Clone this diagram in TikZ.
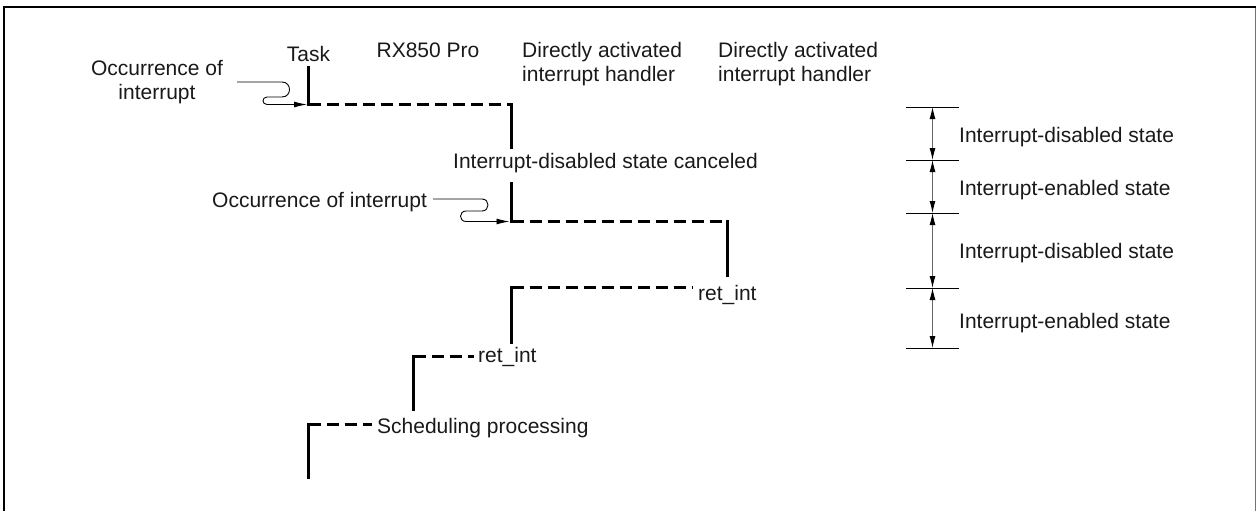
\documentclass[tikz,border=0pt]{standalone}
\usepackage{fontspec}
\setmainfont{Liberation Sans}
\usetikzlibrary{arrows.meta}

\begin{document}
\begin{tikzpicture}[x=1pt, y=-1pt,
    txt/.style={inner sep=0pt, text=black!90, font=\fontsize{21}{24}\selectfont},
    run/.style={line width=3pt, line cap=rect},
    wait/.style={line width=3pt, dash pattern=on 12pt off 6pt},
    irq/.style={line width=0.9pt, -{Latex[length=13pt,width=6pt]}},
    span/.style={line width=0.9pt, draw=black!60,
        {Latex[length=12pt,width=6pt,color=black]}-{Latex[length=12pt,width=6pt,color=black]}}]
    \useasboundingbox (0,0) rectangle (1257,511);
    \draw[line width=2pt] (4,511) -- (4,7) -- (1256,7);
    \draw[line width=1.5pt, black!55] (1255.5,8) -- (1255.5,511);

    \node[txt, anchor=base] (task) at (308.5,61) {Task};
    \node[txt, anchor=base] (rx) at (428,57) {RX850 Pro};
    \node[txt, anchor=north west, align=left] (hdlA) at (522,42) {Directly activated\\interrupt handler};
    \node[txt, anchor=north west, align=left] (hdlB) at (718,42) {Directly activated\\interrupt handler};
    \node[txt, anchor=north, align=center] (occA) at (157,60) {Occurrence of\\interrupt};
    \node[txt, anchor=base west] (cancel) at (453,168) {Interrupt-disabled state canceled};
    \node[txt, anchor=base west] (occB) at (212,207) {Occurrence of interrupt};
    \node[txt, anchor=base west] (retB) at (698,300.5) {ret\_int};
    \node[txt, anchor=base west] (retA) at (478,362.5) {ret\_int};
    \node[txt, anchor=base west] (sched) at (377,433) {Scheduling processing};

    \coordinate (t0) at (308.5,67);
    \coordinate (t1) at (308.5,104.5);
    \coordinate (t2) at (511.5,104.5);
    \coordinate (t3) at (511.5,147);
    \coordinate (a0) at (511.5,183);
    \coordinate (a1) at (511.5,221.5);
    \coordinate (a2) at (727.5,221.5);
    \coordinate (a3) at (727.5,275);
    \coordinate (a4) at (511.5,287.5);
    \coordinate (a5) at (511.5,342);
    \coordinate (r0) at (413.5,356.5);
    \coordinate (r1) at (413.5,409);
    \coordinate (p0) at (308.5,424.5);
    \coordinate (p1) at (308.5,477);
    \coordinate (qA) at (237,82);
    \coordinate (qB) at (433,199);

    \draw[run] (t0) -- (t1);
    \draw[wait] (t1) -- (t2);
    \draw[run] (t2) -- (t3);
    \draw[run] (a0) -- (a1);
    \draw[wait] (a1) -- (a2);
    \draw[run] (a2) -- (a3);
    \draw[wait, shorten >=5pt] (a4) -- (a4 -| retB.west);
    \draw[run] (a4) -- (a5);
    \draw[wait, shorten >=4pt] (r0) -- (r0 -| retA.west);
    \draw[run] (r0) -- (r1);
    \draw[wait, shorten >=5pt] (p0) -- (p0 -| sched.west);
    \draw[run] (p0) -- (p1);

    \draw[irq, shorten >=1.5pt] (qA) -- (282,82) .. controls (292,82) and (292,97) .. (282,97)
        -- (267,97) .. controls (261.7,97) and (261.7,104.5) .. (267,104.5) -- (t1);
    \draw[irq, shorten >=2pt] (qB) -- (482,199) .. controls (490,199) and (490,211) .. (482,211)
        -- (466,211) .. controls (458.7,211) and (458.7,221.5) .. (466,221.5) -- (a1);

    \foreach \y [count=\i from 0] in {107,160,213,288,348} {
        \coordinate (k\i) at (932.5,\y);
        \draw[line width=0.8pt] (906,\y) -- (959,\y);
    }
    \foreach \a/\b in {0/1,1/2,2/3,3/4}
        \draw[span] (k\a) -- (k\b);
    \foreach \i/\yb/\st in {1/142/disabled,2/195.5/enabled,3/258.5/disabled,4/328.5/enabled}
        \node[txt, anchor=base west] (st\i) at (959,\yb) {Interrupt-\st{} state};
\end{tikzpicture}
\end{document}
